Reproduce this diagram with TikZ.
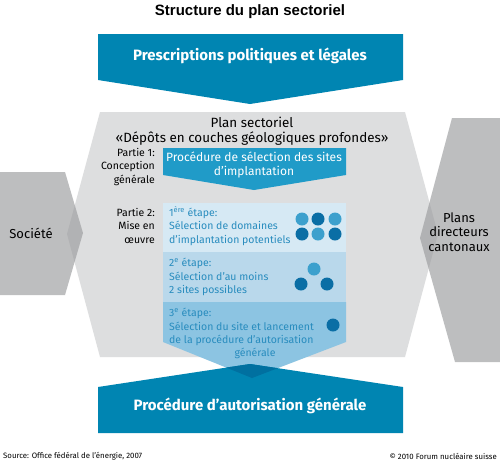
\documentclass[tikz,border=0pt]{standalone}
\usepackage{fontspec}
\setmainfont{Fira Sans}
\newfontfamily\titlefont{Liberation Sans}
\usetikzlibrary{positioning}

\definecolor{fnblue}{RGB}{0,133,178}
\definecolor{fndark}{RGB}{0,112,160}
\definecolor{partblue}{RGB}{32,155,200}
\definecolor{stepone}{RGB}{214,233,244}
\definecolor{steptwo}{RGB}{185,216,235}
\definecolor{stepthree}{RGB}{140,196,226}
\definecolor{hexgray}{RGB}{221,222,223}
\definecolor{sidegray}{RGB}{153,154,156}
\definecolor{steptext}{RGB}{40,140,190}
\definecolor{dotdark}{RGB}{10,110,165}
\definecolor{dotlight}{RGB}{60,160,205}

\begin{document}
\begin{tikzpicture}[x=1pt, y=-1pt,
    bigtext/.style={text=white, font=\bfseries\fontsize{15}{17}\selectfont},
    label/.style={align=right, inner sep=0pt, font=\fontsize{10.5}{13.5}\selectfont},
    stepbox/.style={align=left, inner sep=0pt, text=steptext, font=\fontsize{10.5}{13.5}\selectfont},
    sidetext/.style={align=center, font=\fontsize{13}{14.5}\selectfont},
    dotd/.style={circle, fill=dotdark, inner sep=0pt, minimum size=13pt},
    dotl/.style={circle, fill=dotlight, inner sep=0pt, minimum size=13pt},
    foot/.style={inner sep=0pt, font=\fontsize{7.8}{9}\selectfont}
]
\useasboundingbox (0,0) rectangle (500,464);
\fill[white] (0,0) rectangle (500,464);

% title
\node[font=\titlefont\bfseries\fontsize{15}{17}\selectfont] (title) at (250,12) {Structure du plan sectoriel};

% top arrow
\fill[fnblue] (98,34) -- (403,34) -- (403,80) -- (250,104) -- (98,80) -- cycle;
\node[bigtext] (prescr) at (250,56) {Prescriptions politiques et légales};

% hexagon and side shapes
\fill[hexgray] (100,112) -- (405,112) -- (438,234) -- (405,357) -- (100,357) -- (67,234) -- cycle;
\fill[sidegray, opacity=.64] (0,172) -- (65,172) -- (83,233) -- (65,295) -- (0,295) -- cycle;
\fill[sidegray, opacity=.64] (452,118) -- (500,118) -- (500,362) -- (455,362) -- (420,238) -- cycle;
\node[sidetext] (societe) at (31,233) {Société};
\node[sidetext] (plans) at (459,232) {Plans\\directeurs\\cantonaux};

\node[align=center, font=\fontsize{13.4}{14.5}\selectfont] (plan) at (252,131) {Plan sectoriel\\«Dépôts en couches géologiques profondes»};

% partie 1
\fill[partblue] (163,148) -- (346,148) -- (346,175) -- (254,190) -- (163,175) -- cycle;
\node[align=center, text=white, font=\fontsize{12}{13.5}\selectfont] (proc) at (254,165) {Procédure de sélection des sites\\d’implantation};
\node[label, anchor=north east] (partie1) at (155,148) {Partie 1:\\Conception\\générale};

% partie 2 steps
\fill[stepone] (163,203) rectangle (346,252);
\fill[steptwo] (163,252) rectangle (346,302);
\fill[stepthree] (163,302) -- (346,302) -- (346,342) -- (252,378) -- (163,342) -- cycle;
\node[label, anchor=north east] (partie2) at (155,208) {Partie 2:\\Mise en\\œuvre};

\node[stepbox, anchor=north west] (etape1) at (169,206) {1\textsuperscript{ère} étape:\\Sélection de domaines\\d’implantation potentiels};
\node[stepbox, anchor=north west] (etape2) at (169,258) {2\textsuperscript{e} étape:\\Sélection d’au moins\\2 sites possibles};
\node[stepbox, anchor=north west] (etape3) at (169,308) {3\textsuperscript{e} étape:\\Sélection du site et lancement\\de la procédure d’autorisation};
\node[text=steptext, inner sep=0pt, font=\fontsize{10.5}{13.5}\selectfont] (etape3b) at (255,353) {générale};

% dots
\node[dotl] (a1) at (302,219) {};
\node[dotd] (a2) at (318,219) {};
\node[dotl] (a3) at (335,219) {};
\node[dotd] (a4) at (302,234) {};
\node[dotl] (a5) at (318,234) {};
\node[dotd] (a6) at (335,234) {};
\node[dotl] (b1) at (314,269) {};
\node[dotd] (b2) at (301,284) {};
\node[dotd] (b3) at (327,284) {};
\node[dotd] (c1) at (333,325) {};

% bottom arrow
\fill[fnblue] (98,387) -- (250,364) -- (403,387) -- (403,433) -- (98,433) -- cycle;
\begin{scope}
  \clip (98,387) -- (250,364) -- (403,387) -- (403,433) -- (98,433) -- cycle;
  \fill[fndark] (163,302) -- (346,302) -- (346,342) -- (252,378) -- (163,342) -- cycle;
\end{scope}
\node[bigtext] (autor) at (250,406) {Procédure d’autorisation générale};

% footer
\node[foot, anchor=west] (source) at (3,456) {Source: Office fédéral de l’énergie, 2007};
\node[foot, anchor=east] (copy) at (497,456) {© 2010 Forum nucléaire suisse};
\end{tikzpicture}
\end{document}
